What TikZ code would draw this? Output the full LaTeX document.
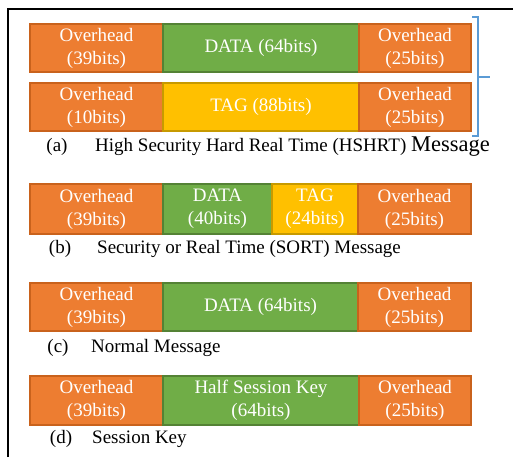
\documentclass[tikz,border=0pt]{standalone}
\usepackage{fontspec}
\setmainfont{Liberation Serif}
\definecolor{ovfill}{HTML}{ED7D31}
\definecolor{ovline}{HTML}{C9621C}
\definecolor{dtfill}{HTML}{70AD47}
\definecolor{dtline}{HTML}{548235}
\definecolor{tgfill}{HTML}{FFC000}
\definecolor{tgline}{HTML}{C79A00}
\definecolor{brace}{HTML}{5B9BD5}
\begin{document}
\begin{tikzpicture}[x=1pt,y=-1pt,
  field/.style={rectangle, inner sep=0pt, line width=1.5pt, text=white,
    align=center, font=\fontsize{19}{23}\selectfont},
  overhead/.style={field, fill=ovfill, draw=ovline},
  datafield/.style={field, fill=dtfill, draw=dtline},
  tagfield/.style={field, fill=tgfill, draw=tgline},
  caption/.style={anchor=base, inner sep=0pt, font=\fontsize{19}{23}\selectfont},
  captext/.style={caption, anchor=base west}]
\useasboundingbox (0,0) rectangle (513,457);

% outer frame (left and top edges)
\draw[line width=1.5pt] (8,457) -- (8,9) -- (513,9);

% (a) HSHRT message: two frames
\node[overhead, minimum width=133pt, minimum height=48pt] (a1o) at (96.5,48) {Overhead\\(39bits)};
\node[datafield, minimum width=196pt, minimum height=48pt] (a1d) at (261,48) {DATA (64bits)};
\node[overhead, minimum width=112pt, minimum height=48pt] (a1e) at (415,48) {Overhead\\(25bits)};

\node[overhead, minimum width=133pt, minimum height=48pt] (a2o) at (96.5,107) {Overhead\\(10bits)};
\node[tagfield, minimum width=196pt, minimum height=48pt] (a2t) at (261,107) {TAG (88bits)};
\node[overhead, minimum width=112pt, minimum height=48pt] (a2e) at (415,107) {Overhead\\(25bits)};

% bracket grouping the two frames
\coordinate (bt) at (472,17);
\coordinate (bb) at (472,136);
\coordinate (bm) at (478,77);
\coordinate (bp) at (490,77);
\draw[brace, line width=1.3pt] (bt) -- (478,17) -- (478,136) -- (bb);
\draw[brace, line width=1.3pt] (bm) -- (bp);

\node[caption] (capa) at (57,151) {(a)};
\node[captext] (capat) at (95,151) {High Security Hard Real Time (HSHRT) {\fontsize{22.5}{26}\selectfont Message}};

% (b) SORT message
\node[overhead, minimum width=133pt, minimum height=50pt] (bo) at (96.5,209) {Overhead\\(39bits)};
\node[datafield, minimum width=109pt, minimum height=50pt] (bd) at (217.5,209) {DATA\\(40bits)};
\node[tagfield, minimum width=86pt, minimum height=50pt] (bt2) at (315,209) {TAG\\(24bits)};
\node[overhead, minimum width=113pt, minimum height=50pt] (be) at (414.5,209) {Overhead\\(25bits)};

\node[caption] (capb) at (60,253) {(b)};
\node[captext] (capbt) at (97,253) {Security or Real Time (SORT) Message};

% (c) normal message
\node[overhead, minimum width=133pt, minimum height=48pt] (co) at (96.5,307) {Overhead\\(39bits)};
\node[datafield, minimum width=195pt, minimum height=48pt] (cd) at (260.5,307) {DATA (64bits)};
\node[overhead, minimum width=113pt, minimum height=48pt] (ce) at (414.5,307) {Overhead\\(25bits)};

\node[caption] (capc) at (58,352) {(c)};
\node[captext] (capct) at (91,352) {Normal Message};

% (d) session key
\node[overhead, minimum width=133pt, minimum height=49pt] (do) at (96.5,400.5) {Overhead\\(39bits)};
\node[datafield, minimum width=196pt, minimum height=49pt] (dd) at (261,400.5) {Half Session Key\\(64bits)};
\node[overhead, minimum width=112pt, minimum height=49pt] (de) at (415,400.5) {Overhead\\(25bits)};

\node[caption] (capd) at (61,443) {(d)};
\node[captext] (capdt) at (92,443) {Session Key};
\end{tikzpicture}
\end{document}
